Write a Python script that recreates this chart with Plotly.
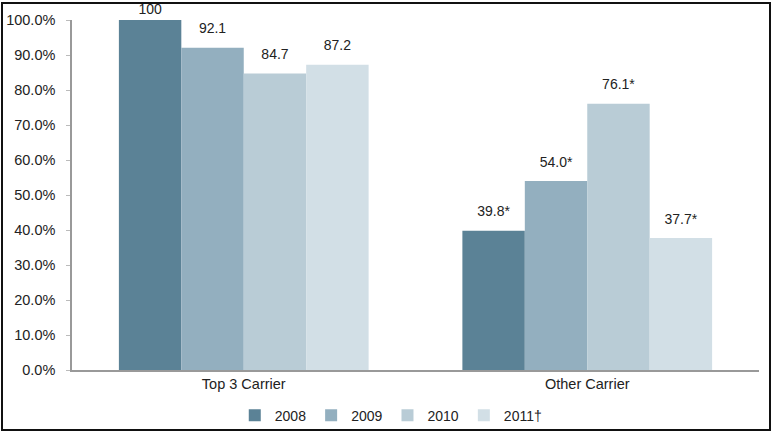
import plotly.graph_objects as go

categories = ["Top 3 Carrier", "Other Carrier"]
years = ["2008", "2009", "2010", "2011†"]
values = {
    "2008": [100.0, 39.8],
    "2009": [92.1, 54.0],
    "2010": [84.7, 76.1],
    "2011†": [87.2, 37.7],
}
labels = {
    "2008": ["100", "39.8*"],
    "2009": ["92.1", "54.0*"],
    "2010": ["84.7", "76.1*"],
    "2011†": ["87.2", "37.7*"],
}
colors = {"2008": "#5b8296", "2009": "#93afbf", "2010": "#b9ccd6", "2011†": "#d2dfe6"}
y_ticks = [0, 10, 20, 30, 40, 50, 60, 70, 80, 90, 100]
y_ticktext = ["0.0%", "10.0%", "20.0%", "30.0%", "40.0%", "50.0%",
              "60.0%", "70.0%", "80.0%", "90.0%", "100.0%"]

W, H = 773, 433
ML, MR, MT, MB = 72, 14, 20, 63
GAP = 0.273
FONT = "Liberation Sans, Arial"

fig = go.Figure()
for yr in years:
    fig.add_trace(go.Bar(
        name=yr, x=categories, y=values[yr],
        marker=dict(color=colors[yr], line=dict(width=0)),
    ))
for yr in years:
    # label offset: the bar touching the top of the plot keeps its label close
    offsets = [2 if v >= 100 else 16 for v in values[yr]]
    fig.add_trace(go.Scatter(
        x=categories, y=values[yr], text=labels[yr], mode="markers+text",
        textposition="top center", cliponaxis=False, showlegend=False,
        hoverinfo="skip", marker=dict(size=offsets, opacity=0, color=colors[yr]),
        textfont=dict(size=14, color="#222", family=FONT),
    ))

pw, ph = W - ML - MR, H - MT - MB
fig.add_shape(type="rect", xref="paper", yref="paper",
              x0=(2 - ML) / pw, x1=(770 - ML) / pw,
              y0=(H - MB - 430) / ph, y1=(H - MB - 3) / ph,
              line=dict(color="#111", width=2), layer="above")

fig.update_layout(
    width=W, height=H,
    margin=dict(l=ML, r=MR, t=MT, b=MB, autoexpand=False),
    paper_bgcolor="white", plot_bgcolor="white",
    barmode="group", bargap=GAP, bargroupgap=0,
    scattermode="group", scattergap=GAP,
    font=dict(family=FONT, size=14, color="#222"),
    showlegend=True,
    legend=dict(orientation="h", x=0.464, xanchor="center", y=-0.085, yanchor="top",
                font=dict(size=14, color="#222"), itemwidth=30, traceorder="normal",
                bgcolor="rgba(0,0,0,0)"),
    xaxis=dict(showline=True, linecolor="#999", linewidth=1.5, ticks="",
               tickfont=dict(size=14.5, color="#222"), showgrid=False),
    yaxis=dict(range=[0, 100], tickvals=y_ticks, ticktext=y_ticktext,
               showline=True, linecolor="#999", linewidth=1.5, ticks="outside",
               ticklen=4, tickcolor="#bbb", showgrid=False, zeroline=False,
               ticklabelstandoff=8,
               tickfont=dict(size=14.5, color="#222")),
)

fig.write_html("out.html", config={"displayModeBar": False},
               post_script="document.body.style.margin='0';document.body.style.overflow='hidden';")
